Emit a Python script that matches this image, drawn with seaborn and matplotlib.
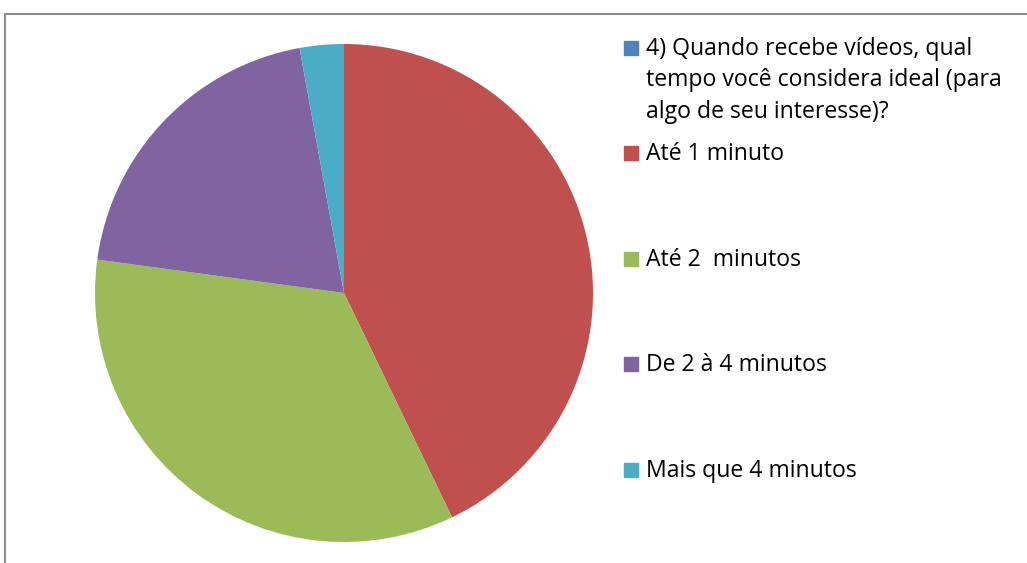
import matplotlib
matplotlib.use("Agg")
import matplotlib.pyplot as plt
import seaborn as sns
from matplotlib.patches import Rectangle

categories = ["4) Quando recebe vídeos, qual\ntempo você considera ideal (para\nalgo de seu interesse)?",
              "Até 1 minuto", "Até 2  minutos", "De 2 à 4 minutos", "Mais que 4 minutos"]
values = [0, 15, 12, 7, 1]
colors = ["#4F81BD", "#C0504D", "#9BBB59", "#8064A2", "#4BACC6"]

sns.set_style("white")
plt.rcParams['font.family'] = ['Open Sans', 'DejaVu Sans']

W, H = 1027, 563
fig = plt.figure(figsize=(W / 100, H / 100), dpi=100)

# pie area: centre (344, 293) px, radius 249 px
ax = fig.add_axes([(344 - 249) / W, (H - 542) / H, 498 / W, 498 / H])
ax.pie(values, colors=colors, startangle=90, counterclock=False, radius=1,
       wedgeprops=dict(linewidth=0))
ax.set_xlim(-1, 1)
ax.set_ylim(-1, 1)
ax.set_aspect("equal")
ax.axis("off")

# legend drawn by hand so the marker sits on the first text line
baselines = [55, 160, 266, 371, 477]
line_px = 31.5
for lab, col, y in zip(categories, colors, baselines):
    fig.patches.append(Rectangle((624 / W, 1 - y / H), 14 / W, 14 / H,
                                 transform=fig.transFigure, color=col))
    # baseline alignment uses the last line of a multi-line label
    last = y + line_px * lab.count("\n")
    fig.text(646 / W, 1 - last / H, lab, ha="left", va="baseline",
             fontsize=16.6, linespacing=1.42, color="black")

# chart border (cropped on right and bottom)
fig.patches.append(Rectangle((5 / W, -0.1), 1.2, 1 - 14 / H + 0.1,
                             transform=fig.transFigure, fill=False,
                             edgecolor="#8C8C8C", linewidth=1.5))

fig.savefig("out.png", dpi=100)
